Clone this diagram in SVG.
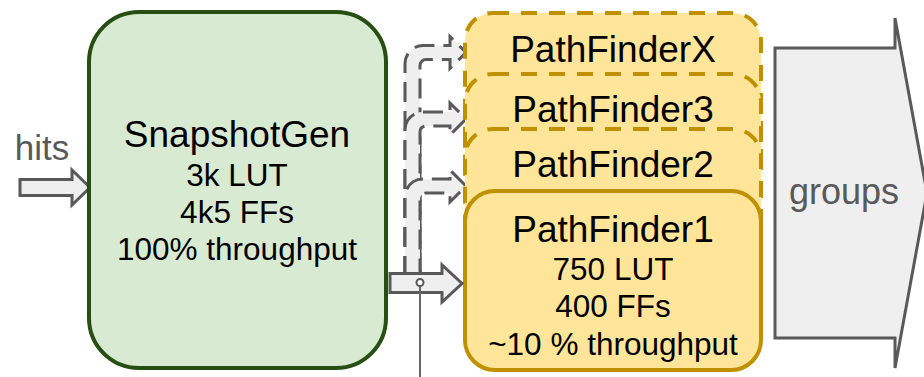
<svg xmlns="http://www.w3.org/2000/svg" width="924" height="377" viewBox="0 0 924 377">
<style>
text{font-family:"Liberation Sans",Arial,sans-serif;text-anchor:middle;fill:#000}
.t{font-size:37px}
.s{font-size:31.5px}
.blk{fill:#efefef;stroke:#595959;stroke-width:3;stroke-linejoin:miter}
.bent{fill:#efefef;stroke:#595959;stroke-width:3;stroke-dasharray:20 9}
.pf{fill:#ffe599;stroke:#bf9000;stroke-width:4}
.pfd{fill:#ffe599;stroke:#bf9000;stroke-width:4;stroke-dasharray:16 12}
</style>
<rect width="924" height="377" fill="#fff"/>
<g id="connectors">
<path class="bent" d="M405,276 V63.5 A18,18 0 0 1 423,45.5 H450 V36.5 L466,52.5 L450,68.5 V59.5 H426 A6,6 0 0 0 420,65.5 V276 Z"/>
<path class="bent" d="M405,276 V130 A18,18 0 0 1 423,112 H450 V103 L466,119 L450,135 V126 H426 A6,6 0 0 0 420,132 V276 Z"/>
<path class="bent" d="M405,276 V197 A18,18 0 0 1 423,179 H450 V170 L466,186 L450,202 V193 H426 A6,6 0 0 0 420,199 V276 Z"/>
<path id="hits-arrow" class="blk" d="M20,179.5 H72 V170 L90,187.5 L72,205 V195.5 H20 Z"/>
<text x="42" y="160" style="font-size:35px;fill:#595959">hits</text>
</g>
<g id="snapshotgen">
<rect x="89" y="12" width="297" height="356" rx="50" ry="50" fill="#d9ead3" stroke="#274e13" stroke-width="4"/>
<text class="t" x="237" y="147">SnapshotGen</text>
<text class="s" x="237" y="186">3k LUT</text>
<text class="s" x="237" y="223">4k5 FFs</text>
<text class="s" x="237" y="260">100% throughput</text>
</g>
<g id="pathfinderX">
<rect class="pfd" x="465" y="13" width="296" height="179" rx="28" ry="28"/>
<text class="t" x="613" y="62">PathFinderX</text>
</g>
<g id="pathfinder3">
<rect class="pfd" x="465" y="74" width="296" height="179" rx="28" ry="28"/>
<text class="t" x="613" y="122">PathFinder3</text>
</g>
<g id="pathfinder2">
<rect class="pfd" x="465" y="129" width="296" height="179" rx="28" ry="28"/>
<text class="t" x="613" y="177">PathFinder2</text>
</g>
<g id="pathfinder1">
<rect class="pf" x="465" y="191" width="296" height="179" rx="30" ry="30"/>
<text class="t" x="613" y="242">PathFinder1</text>
<text class="s" x="613" y="280">750 LUT</text>
<text class="s" x="613" y="317">400 FFs</text>
<text class="s" x="613" y="355">~10 % throughput</text>
</g>
<g id="fanout">
<path class="blk" d="M390,273.5 H442 V265 L462,283.5 L442,302 V292.5 H390 Z"/>
<line x1="420" y1="286" x2="420" y2="377" stroke="#666" stroke-width="2"/>
<circle cx="420" cy="282.5" r="3.5" fill="#fff" stroke="#595959" stroke-width="2"/>
</g>
<g id="groups">
<path class="blk" d="M775,48 H895 V18 L927,193 L895,368 V338 H775 Z"/>
<text x="844" y="204" style="font-size:36px;fill:#595959">groups</text>
</g>
</svg>
